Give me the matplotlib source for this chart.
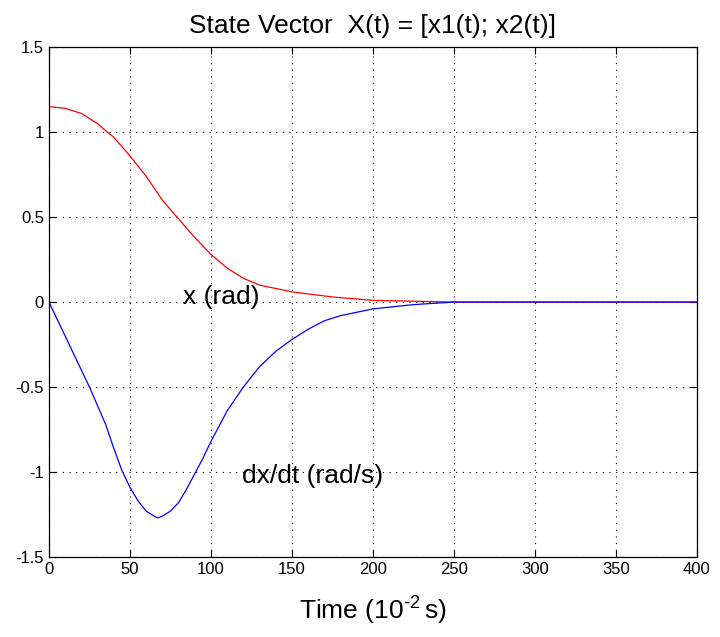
import matplotlib
matplotlib.use("Agg")
import matplotlib.pyplot as plt

plt.rcParams['font.family'] = ['Liberation Sans', 'DejaVu Sans']
plt.rcParams['mathtext.fontset'] = 'custom'
plt.rcParams['mathtext.rm'] = 'Liberation Sans'

# values
t_x = [0, 10, 20, 30, 36, 40, 50, 60, 70, 79, 90, 100, 110, 120, 130, 140,
       150, 175, 200, 225, 250, 300, 350, 400]
x_pos = [1.15, 1.14, 1.11, 1.05, 1.0, 0.97, 0.86, 0.74, 0.60, 0.50, 0.38, 0.28,
         0.20, 0.14, 0.10, 0.08, 0.06, 0.03, 0.01, 0.005, 0.0, 0.0, 0.0, 0.0]

t_v = [0, 5, 10, 15, 20, 25, 30, 35, 40, 45, 50, 55, 60, 65, 67, 70, 75, 80,
       85, 90, 95, 100, 110, 120, 130, 140, 150, 160, 170, 180, 200, 225, 250,
       300, 350, 400]
x_vel = [0.0, -0.1, -0.2, -0.3, -0.4, -0.5, -0.61, -0.72, -0.86, -0.99, -1.09,
         -1.17, -1.23, -1.26, -1.27, -1.26, -1.23, -1.18, -1.10, -1.01, -0.92,
         -0.82, -0.64, -0.50, -0.38, -0.29, -0.22, -0.16, -0.11, -0.08, -0.04,
         -0.015, 0.0, 0.0, 0.0, 0.0]

xticks = [0, 50, 100, 150, 200, 250, 300, 350, 400]
yticks = [-1.5, -1, -0.5, 0, 0.5, 1, 1.5]

fig = plt.figure(figsize=(7.2, 6.37), dpi=100)
ax = fig.add_axes([0.068, 0.1256, 0.9, 0.8004])

ax.plot(t_x, x_pos, color="red", linewidth=0.9)
ax.plot(t_v, x_vel, color="blue", linewidth=0.9)

ax.set_xlim(0, 400)
ax.set_ylim(-1.5, 1.5)
ax.set_xticks(xticks)
ax.set_yticks(yticks)
ax.set_yticklabels(["-1.5", "-1", "-0.5", "0", "0.5", "1", "1.5"])
ax.grid(True, color="black", linestyle=(0, (1, 5)), linewidth=0.8)
ax.tick_params(direction="in", top=True, right=True, labelsize=12, length=5)
for s in ax.spines.values():
    s.set_linewidth(0.9)

ax.set_title("State Vector  X(t) = [x1(t); x2(t)]", fontsize=19, pad=10)
ax.set_xlabel("Time (10$^{\\text{-}2}\\,$s)", fontsize=19, labelpad=12)

ax.text(83, -0.01, "x (rad)", fontsize=19)
ax.text(119, -1.065, "dx/dt (rad/s)", fontsize=19)

plt.savefig("out.png")
